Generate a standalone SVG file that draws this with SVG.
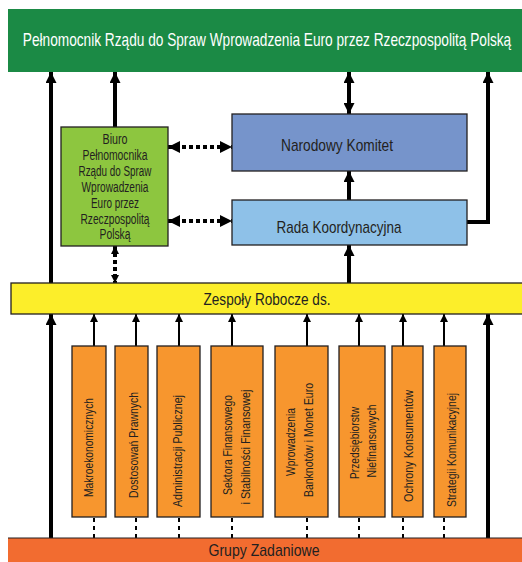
<svg xmlns="http://www.w3.org/2000/svg" width="522" height="562" viewBox="0 0 522 562">
<style>
text{font-family:"Liberation Sans",Arial,sans-serif;fill:#231f20}
.t{font-size:17px;text-anchor:middle}
.b{font-size:14px;text-anchor:middle}
.r{font-size:13px;text-anchor:middle}
.box{stroke:#231f20;stroke-width:1.3}
.thick{stroke:#000;stroke-width:4;fill:none}
.thin{stroke:#000;stroke-width:2;fill:none}
.dot{stroke:#000;stroke-width:4;fill:none;stroke-dasharray:4 3}
.dash{stroke:#000;stroke-width:2;fill:none;stroke-dasharray:4 4}
</style>
<defs>
<marker id="ah" viewBox="0 0 10 10" refX="10" refY="5" markerWidth="11" markerHeight="11" markerUnits="userSpaceOnUse" orient="auto-start-reverse"><path d="M0,0 L10,5 L0,10 z" fill="#000"/></marker>
<marker id="ahs" viewBox="0 0 10 10" refX="10" refY="5" markerWidth="8" markerHeight="8" markerUnits="userSpaceOnUse" orient="auto-start-reverse"><path d="M0,0 L10,5 L0,10 z" fill="#000"/></marker>
<marker id="ahd" viewBox="0 0 10 10" refX="10" refY="5" markerWidth="12" markerHeight="12" markerUnits="userSpaceOnUse" orient="auto-start-reverse"><path d="M0,0 L10,5 L0,10 z" fill="#000"/></marker>
</defs>

<g id="connectors">
<line class="thick" x1="51" y1="283" x2="51" y2="72" marker-end="url(#ah)"/>
<line class="thick" x1="51" y1="538" x2="51" y2="314" marker-end="url(#ah)"/>
<line class="thick" x1="488" y1="538" x2="488" y2="314" marker-end="url(#ah)"/>
<line class="thick" x1="115" y1="127" x2="115" y2="72" marker-end="url(#ah)"/>
<line class="thick" x1="349" y1="114" x2="349" y2="72" marker-start="url(#ah)" marker-end="url(#ah)"/>
<line class="thick" x1="349" y1="200" x2="349" y2="171" marker-end="url(#ah)"/>
<line class="thick" x1="349" y1="283" x2="349" y2="245" marker-end="url(#ah)"/>
<polyline class="thick" points="467,222 488,222 488,72" marker-end="url(#ah)"/>
<line class="dot" x1="168" y1="147" x2="232" y2="147" marker-start="url(#ahd)" marker-end="url(#ahd)"/>
<line class="dot" x1="168" y1="221" x2="232" y2="221" marker-start="url(#ahd)" marker-end="url(#ahd)"/>
<line class="dot" x1="115" y1="246" x2="115" y2="283" marker-start="url(#ahs)" marker-end="url(#ahs)"/>
<line class="thin" x1="94" y1="346" x2="94" y2="314" marker-end="url(#ahs)"/>
<line class="thin" x1="136" y1="346" x2="136" y2="314" marker-end="url(#ahs)"/>
<line class="thin" x1="179" y1="346" x2="179" y2="314" marker-end="url(#ahs)"/>
<line class="thin" x1="232" y1="346" x2="232" y2="314" marker-end="url(#ahs)"/>
<line class="thin" x1="307" y1="346" x2="307" y2="314" marker-end="url(#ahs)"/>
<line class="thin" x1="359" y1="346" x2="359" y2="314" marker-end="url(#ahs)"/>
<line class="thin" x1="403" y1="346" x2="403" y2="314" marker-end="url(#ahs)"/>
<line class="thin" x1="444" y1="346" x2="444" y2="314" marker-end="url(#ahs)"/>
<line class="dash" x1="94" y1="518" x2="94" y2="538"/>
<line class="dash" x1="136" y1="518" x2="136" y2="538"/>
<line class="dash" x1="179" y1="518" x2="179" y2="538"/>
<line class="dash" x1="232" y1="518" x2="232" y2="538"/>
<line class="dash" x1="307" y1="518" x2="307" y2="538"/>
<line class="dash" x1="359" y1="518" x2="359" y2="538"/>
<line class="dash" x1="403" y1="518" x2="403" y2="538"/>
<line class="dash" x1="444" y1="518" x2="444" y2="538"/>
</g>

<g id="pelnomocnik">
<rect x="8" y="9" width="514" height="63" fill="#1b8a45"/>
<text class="t" transform="translate(267,46) scale(0.76,1)" style="fill:#fff;font-size:18px">Pełnomocnik Rządu do Spraw Wprowadzenia Euro przez Rzeczpospolitą Polską</text>
</g>

<g id="biuro">
<rect class="box" x="61" y="127" width="107" height="119" fill="#8dc63f"/>
<text class="b" x="115" y="144" textLength="25" lengthAdjust="spacingAndGlyphs">Biuro</text>
<text class="b" x="115" y="159.5" textLength="65" lengthAdjust="spacingAndGlyphs">Pełnomocnika</text>
<text class="b" x="115" y="175.5" textLength="73" lengthAdjust="spacingAndGlyphs">Rządu do Spraw</text>
<text class="b" x="115" y="191.5" textLength="67" lengthAdjust="spacingAndGlyphs">Wprowadzenia</text>
<text class="b" x="115" y="207.5" textLength="48" lengthAdjust="spacingAndGlyphs">Euro przez</text>
<text class="b" x="115" y="223.5" textLength="69" lengthAdjust="spacingAndGlyphs">Rzeczpospolitą</text>
<text class="b" x="115" y="239" textLength="31" lengthAdjust="spacingAndGlyphs">Polską</text>
</g>

<g id="narodowy">
<rect class="box" x="232" y="114" width="235" height="57" fill="#7694cb"/>
<text class="t" x="337" y="151" textLength="112" lengthAdjust="spacingAndGlyphs">Narodowy Komitet</text>
</g>

<g id="rada">
<rect class="box" x="232" y="200" width="235" height="45" fill="#8ec1e8"/>
<text class="t" x="339" y="233" textLength="125" lengthAdjust="spacingAndGlyphs">Rada Koordynacyjna</text>
</g>

<g id="zespoly">
<rect class="box" x="11" y="283" width="515" height="31" fill="#fcee2a"/>
<text class="t" x="267" y="305" textLength="127" lengthAdjust="spacingAndGlyphs">Zespoły Robocze ds.</text>
</g>

<g id="g1">
<rect class="box" x="72" y="346" width="34" height="171" fill="#f7962e"/>
<text class="r" transform="translate(92.5,447.5) rotate(-90)" textLength="99" lengthAdjust="spacingAndGlyphs">Makroekonomicznych</text>
</g>
<g id="g2">
<rect class="box" x="115" y="346" width="33" height="171" fill="#f7962e"/>
<text class="r" transform="translate(137.5,445) rotate(-90)" textLength="106" lengthAdjust="spacingAndGlyphs">Dostosowań  Prawnych</text>
</g>
<g id="g3">
<rect class="box" x="157" y="346" width="43" height="171" fill="#f7962e"/>
<text class="r" transform="translate(181.5,451) rotate(-90)" textLength="112" lengthAdjust="spacingAndGlyphs">Administracji Publicznej</text>
</g>
<g id="g4">
<rect class="box" x="211" y="346" width="52" height="171" fill="#f7962e"/>
<text class="r" transform="translate(231.5,445) rotate(-90)" textLength="100" lengthAdjust="spacingAndGlyphs">Sektora Finansowego</text>
<text class="r" transform="translate(249.5,447) rotate(-90)" textLength="115" lengthAdjust="spacingAndGlyphs">i Stabilności  Finansowej</text>
</g>
<g id="g5">
<rect class="box" x="275" y="346" width="53" height="171" fill="#f7962e"/>
<text class="r" transform="translate(294.5,442) rotate(-90)" textLength="68" lengthAdjust="spacingAndGlyphs">Wprowadzenia</text>
<text class="r" transform="translate(312.5,440) rotate(-90)" textLength="114" lengthAdjust="spacingAndGlyphs">Banknotów i Monet Euro</text>
</g>
<g id="g6">
<rect class="box" x="339" y="346" width="46" height="171" fill="#f7962e"/>
<text class="r" transform="translate(358.5,443) rotate(-90)" textLength="72" lengthAdjust="spacingAndGlyphs">Przedsiębiorstw</text>
<text class="r" transform="translate(375.5,441) rotate(-90)" textLength="73" lengthAdjust="spacingAndGlyphs">Niefinansowych</text>
</g>
<g id="g7">
<rect class="box" x="392" y="346" width="31" height="171" fill="#f7962e"/>
<text class="r" transform="translate(412.5,446) rotate(-90)" textLength="112" lengthAdjust="spacingAndGlyphs">Ochrony  Konsumentów</text>
</g>
<g id="g8">
<rect class="box" x="434" y="346" width="32" height="171" fill="#f7962e"/>
<text class="r" transform="translate(455.5,450) rotate(-90)" textLength="114" lengthAdjust="spacingAndGlyphs">Strategii Komunikacyjnej</text>
</g>

<g id="grupy">
<rect x="8" y="538" width="514" height="24" fill="#f26c30"/>
<line x1="8" y1="538" x2="522" y2="538" stroke="#231f20" stroke-width="1"/>
<text class="t" x="264" y="556" textLength="111" lengthAdjust="spacingAndGlyphs">Grupy Zadaniowe</text>
</g>
</svg>
